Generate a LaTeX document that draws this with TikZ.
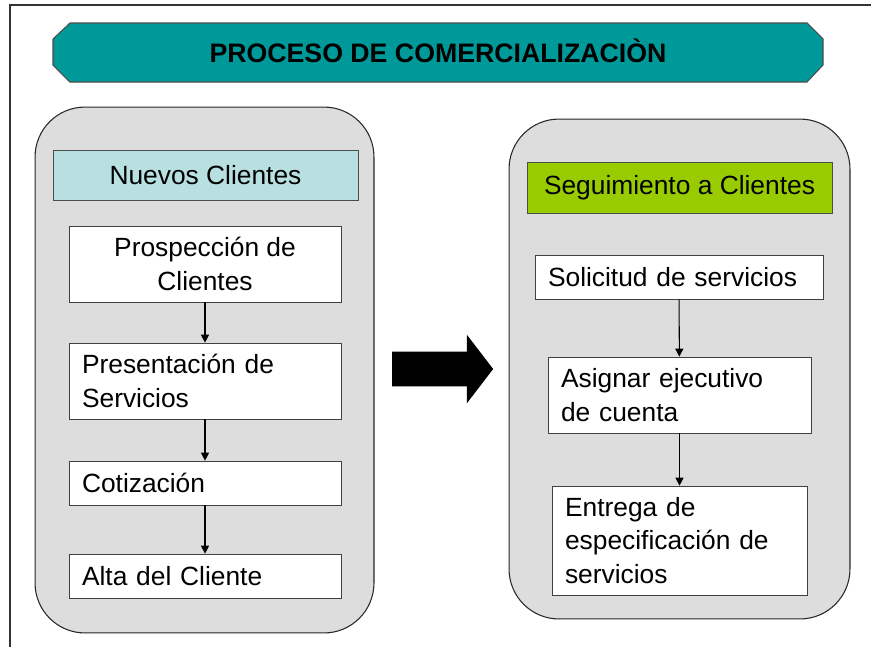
\documentclass[tikz,border=0pt]{standalone}
\usepackage{fontspec}
\setmainfont{Liberation Sans}
\usetikzlibrary{positioning, shapes.arrows, arrows.meta}
\definecolor{tealBanner}{HTML}{009999}
\definecolor{cyanHead}{HTML}{B8E0E0}
\definecolor{greenHead}{HTML}{99CC00}
\definecolor{panelGray}{HTML}{DDDDDD}
\tikzstyle{panelBox} = [shape=rectangle, draw=black!85, fill=panelGray, rounded corners=1cm,
	line width=0.6pt]
\tikzstyle{headBox} = [shape=rectangle, draw=black!70, text=black, align=center,
	minimum width=6.1cm, minimum height=1cm, font=\fontsize{15}{19}\selectfont]
\tikzstyle{stepBox} = [shape=rectangle, draw=black!75, fill=white, text=black,
	inner xsep=0.26cm, font=\fontsize{15}{19}\selectfont]
\tikzstyle{leftBox} = [stepBox, align=left]
\tikzstyle{flowArrow} = [line width=0.6pt, -{Triangle[length=0.16cm, width=0.16cm]}, draw=black]

\begin{document}
\begin{tikzpicture}[x=0.02cm, y=-0.02cm]
  \useasboundingbox (0,0) rectangle (871,647);
  \draw[black!80, line width=0.6pt] (871,5) -- (10,5) -- (10,647);

  % banner
  \draw[fill=tealBanner, draw=black!70, line width=0.6pt] (53,39) -- (70,23) -- (807,23) -- (823,39)
    -- (823,65) -- (807,82) -- (70,82) -- (53,65) -- cycle;
  \node (title) at (438,62) [anchor=base, font=\fontsize{15.2}{19}\selectfont\bfseries] {PROCESO DE COMERCIALIZACIÒN};

  \node (panelL) at (204.5,370) [panelBox, minimum width=6.78cm, minimum height=10.52cm] {};
  \node (panelR) at (679.5,369) [panelBox, minimum width=6.82cm, minimum height=10cm] {};

  \node (nuevos) at (205.5,175) [headBox, fill=cyanHead] {Nuevos Clientes};
  \node (prosp) at (205,264) [stepBox, align=center, minimum width=5.44cm, minimum height=1.52cm] {Prospección de\\Clientes};
  \node (present) at (205,381) [leftBox, text width=4.92cm, minimum height=1.52cm] {Presentación de\\Servicios};
  \node (cotiz) at (205,483) [leftBox, text width=4.92cm, minimum height=0.88cm] {Cotización};
  \node (alta) at (205,576) [leftBox, text width=4.92cm, minimum height=0.88cm] {Alta del Cliente};

  \node (seguim) at (679.5,187.5) [headBox, fill=greenHead, minimum height=1.02cm] {Seguimiento a Clientes};
  \node (solic) at (679,277) [leftBox, text width=5.24cm, minimum height=0.88cm] {Solicitud de servicios};
  \node (asign) at (679.5,395) [leftBox, text width=4.74cm, minimum height=1.52cm] {Asignar ejecutivo\\de cuenta};
  \node (entrega) at (679.5,540.5) [leftBox, text width=4.58cm, minimum height=2.18cm] {Entrega de\\especificación de\\servicios};

  \node (bigArrow) at (436,369) [single arrow, fill=black, inner xsep=0pt, inner ysep=0.34cm,
    minimum height=2.02cm, single arrow head extend=0.34cm, single arrow tip angle=105] {};

  \draw [flowArrow] (prosp) -- (present);
  \draw [flowArrow] (present) -- (cotiz);
  \draw [flowArrow] (cotiz) -- (alta);
  \draw [flowArrow] (solic) -- (asign);
  \draw [flowArrow] (asign) -- (entrega);
\end{tikzpicture}
\end{document}
